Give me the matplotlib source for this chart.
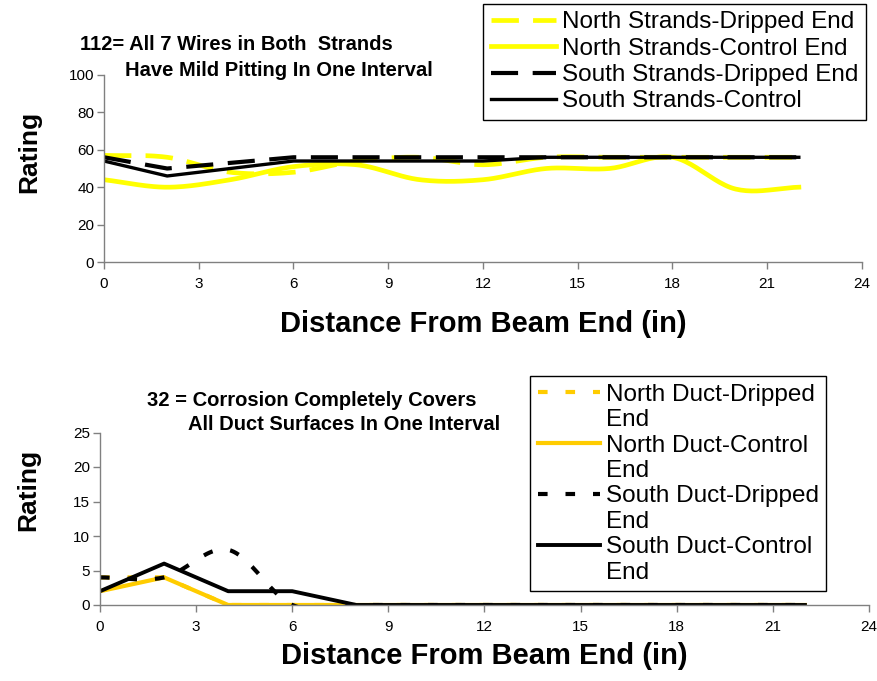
import numpy as np
import matplotlib
matplotlib.use("Agg")
import matplotlib.pyplot as plt
from matplotlib.lines import Line2D

plt.rcParams['font.family'] = ['Liberation Sans', 'DejaVu Sans']

# distance from beam end (in)
dist = [0, 2, 4, 6, 8, 10, 12, 14, 16, 18, 20, 22]

# strands ratings
north_strand_drip = [57, 56, 48, 48, 54, 56, 52, 56, 56, 56, 56, 56]
north_strand_ctrl = [44, 40, 44, 51, 52, 44, 44, 50, 50, 56, 39, 40]
south_strand_drip = [56, 50, 53, 56, 56, 56, 56, 56, 56, 56, 56, 56]
south_strand_ctrl = [54, 46, 50, 54, 54, 54, 54, 56, 56, 56, 56, 56]

# duct ratings
north_duct_drip = [4, 4, 0, 0, 0, 0, 0, 0, 0, 0, 0, 0]
north_duct_ctrl = [2, 4, 0, 0, 0, 0, 0, 0, 0, 0, 0, 0]
south_duct_drip = [4, 4, 8, 0, 0, 0, 0, 0, 0, 0, 0, 0]
south_duct_ctrl = [2, 6, 2, 2, 0, 0, 0, 0, 0, 0, 0, 0]


def smooth(x, y, n=24):
    # catmull-rom, like excel's smoothed line
    x = np.asarray(x, float); y = np.asarray(y, float)
    px = np.concatenate([[2*x[0]-x[1]], x, [2*x[-1]-x[-2]]])
    py = np.concatenate([[2*y[0]-y[1]], y, [2*y[-1]-y[-2]]])
    ox, oy = [], []
    t = np.linspace(0, 1, n, endpoint=False)
    for i in range(1, len(px)-2):
        for arr, out in ((px, ox), (py, oy)):
            p0, p1, p2, p3 = arr[i-1], arr[i], arr[i+1], arr[i+2]
            out.extend(0.5*((2*p1) + (-p0+p2)*t + (2*p0-5*p1+4*p2-p3)*t**2
                            + (-p0+3*p1-3*p2+p3)*t**3))
    ox.append(x[-1]); oy.append(y[-1])
    return np.array(ox), np.array(oy)


fig = plt.figure(figsize=(8.78, 6.81), dpi=100)
W, H = 878, 681
ax1 = fig.add_axes([104/W, 1-262/H, 758/W, 187/H])
ax2 = fig.add_axes([100/W, 1-605/H, 769/W, 172.5/H])

gray = '#808080'

sx, sy = smooth(dist, north_strand_drip)
l1, = ax1.plot(sx, sy, color='#FFFF00', lw=3.4, dashes=(5.8, 3.0))
sx, sy = smooth(dist, north_strand_ctrl)
l2, = ax1.plot(sx, sy, color='#FFFF00', lw=3.4)
l3, = ax1.plot(dist, south_strand_drip, color='black', lw=3.0, dashes=(6.5, 3.5))
l4, = ax1.plot(dist, south_strand_ctrl, color='black', lw=2.4)

m1, = ax2.plot(dist, north_duct_drip, color='#FFCC00', lw=3.0, dashes=(2.3, 4.3))
m2, = ax2.plot(dist, north_duct_ctrl, color='#FFCC00', lw=3.0)
sx, sy = smooth(dist, south_duct_drip)
m3, = ax2.plot(sx, sy, color='black', lw=3.0, dashes=(2.3, 4.3))
m4, = ax2.plot(dist, south_duct_ctrl, color='black', lw=2.8)

for ax, ymax, ystep in ((ax1, 100, 20), (ax2, 25, 5)):
    ax.set_xlim(0, 24)
    ax.set_ylim(0, ymax)
    ax.set_xticks(range(0, 25, 3))
    ax.set_yticks(range(0, ymax+1, ystep))
    for s in ('top', 'right'):
        ax.spines[s].set_visible(False)
    for s in ('left', 'bottom'):
        ax.spines[s].set_color(gray)
        ax.spines[s].set_linewidth(1.0)
    ax.tick_params(direction='out', length=5, width=1, color=gray,
                   labelsize=11)
    ax.tick_params(axis='x', pad=6)
    ax.tick_params(axis='y', pad=2)
    ax.set_ylabel('Rating', fontsize=19, fontweight='bold')
    ax.set_xlabel('Distance From Beam End (in)', fontsize=21, fontweight='bold')

ax1.yaxis.set_label_coords(-0.083, 0.59)
ax1.xaxis.set_label_coords(0.5, -0.255)
ax2.yaxis.set_label_coords(-0.078, 0.666)
ax2.xaxis.set_label_coords(0.5, -0.215)

fs = 14.5
fig.text(80/W, 1-45/H, '112= All 7 Wires in Both  Strands', fontsize=fs,
         fontweight='bold', va='center', ha='left')
fig.text(125/W, 1-70/H, 'Have Mild Pitting In One Interval', fontsize=fs,
         fontweight='bold', va='center', ha='left')
fig.text(147/W, 1-400/H, '32 = Corrosion Completely Covers', fontsize=fs,
         fontweight='bold', va='center', ha='left')
fig.text(188/W, 1-425/H, 'All Duct Surfaces In One Interval', fontsize=fs,
         fontweight='bold', va='center', ha='left')

leg1 = fig.legend([l1, l2, l3, l4],
                  ['North Strands-Dripped End', 'North Strands-Control End',
                   'South Strands-Dripped End', 'South Strands-Control'],
                  loc='upper right', bbox_to_anchor=(866/W, 1-4/H),
                  fontsize=17.5, handlelength=2.7, handletextpad=0.25,
                  labelspacing=0.18, borderpad=0.3, borderaxespad=0,
                  fancybox=False, framealpha=1, edgecolor='black')
leg1.get_frame().set_linewidth(1.0)

blank = Line2D([], [], color='none')
leg2 = fig.legend([m1, blank, m2, blank, m3, blank, m4, blank],
                  ['North Duct-Dripped', 'End', 'North Duct-Control', 'End',
                   'South Duct-Dripped', 'End', 'South Duct-Control', 'End'],
                  loc='lower right', bbox_to_anchor=(826/W, 1-591/H),
                  fontsize=17.5, handlelength=2.55, handletextpad=0.25,
                  labelspacing=0.14, borderpad=0.3, borderaxespad=0,
                  fancybox=False, framealpha=1, edgecolor='black')
leg2.get_frame().set_linewidth(1.0)

fig.savefig('out.png', dpi=100)
